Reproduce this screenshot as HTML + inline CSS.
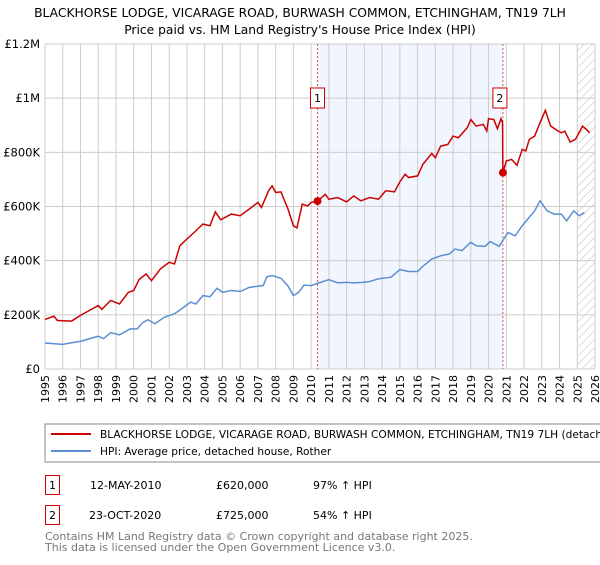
<!DOCTYPE html>
<html><head><meta charset="utf-8"><style>
body{margin:0;background:#fff;font-family:"Liberation Sans","DejaVu Sans",sans-serif}
svg text{font-family:"DejaVu Sans","Liberation Sans",sans-serif}
</style></head><body>
<svg id="c" width="600" height="560" xmlns="http://www.w3.org/2000/svg">
<defs><pattern id="h" width="6" height="6" patternUnits="userSpaceOnUse" patternTransform="rotate(45)"><line x1="0" y1="0" x2="0" y2="6" stroke="#bbb" stroke-width="1"/></pattern></defs>
<text x="300" y="17" text-anchor="middle" font-size="12.3">BLACKHORSE LODGE, VICARAGE ROAD, BURWASH COMMON, ETCHINGHAM, TN19 7LH</text>
<text x="300" y="34" text-anchor="middle" font-size="12.3">Price paid vs. HM Land Registry's House Price Index (HPI)</text>
<g id="grid"></g>
<g id="marks"></g>
<g id="axes"></g>
<rect x="45" y="424" width="560" height="38" fill="none" stroke="#888"/>
<line x1="51" y1="434" x2="91" y2="434" stroke="#cc0000" stroke-width="2"/>
<text x="100" y="438" font-size="10.6">BLACKHORSE LODGE, VICARAGE ROAD, BURWASH COMMON, ETCHINGHAM, TN19 7LH (detached house)</text>
<line x1="51" y1="451" x2="91" y2="451" stroke="#5b8fd4" stroke-width="2"/>
<text x="100" y="455" font-size="10.6">HPI: Average price, detached house, Rother</text>
<g>
<rect x="45.5" y="475.5" width="14" height="19" fill="none" stroke="#cc0000"/>
<text x="52.5" y="489" text-anchor="middle" font-size="11">1</text>
<text x="90" y="489" font-size="11">12-MAY-2010</text>
<text x="216" y="489" font-size="11">£620,000</text>
<text x="313" y="489" font-size="11">97% ↑ HPI</text></g>
<g>
<rect x="45.5" y="505.5" width="14" height="19" fill="none" stroke="#cc0000"/>
<text x="52.5" y="519" text-anchor="middle" font-size="11">2</text>
<text x="89" y="519" font-size="11">23-OCT-2020</text>
<text x="216" y="519" font-size="11">£725,000</text>
<text x="313" y="519" font-size="11">54% ↑ HPI</text></g>
<text x="45" y="540" font-size="11" fill="#777">Contains HM Land Registry data © Crown copyright and database right 2025.</text>
<text x="45" y="551" font-size="11" fill="#777">This data is licensed under the Open Government Licence v3.0.</text>
</svg>
<script>
const yTicks=[0,200000,400000,600000,800000,1000000,1200000];
const yTickLabels=["£0","£200K","£400K","£600K","£800K","£1M","£1.2M"];
const xYears=[1995,1996,1997,1998,1999,2000,2001,2002,2003,2004,2005,2006,2007,2008,2009,2010,2011,2012,2013,2014,2015,2016,2017,2018,2019,2020,2021,2022,2023,2024,2025,2026];
const saleDates=[2010.36,2020.81];
const salePrices=[620000,725000];
const saleLabels=["1","2"];
const propT=[1995.0,1995.5,1995.7,1996.5,1997.0,1997.5,1998.0,1998.2,1998.7,1999.2,1999.7,2000.0,2000.3,2000.7,2001.0,2001.5,2002.0,2002.3,2002.6,2003.0,2003.4,2003.9,2004.3,2004.6,2004.9,2005.5,2006.0,2006.5,2007.0,2007.2,2007.6,2007.8,2008.0,2008.3,2008.7,2009.0,2009.2,2009.5,2009.8,2010.0,2010.36,2010.8,2011.0,2011.5,2012.0,2012.4,2012.8,2013.3,2013.8,2014.2,2014.7,2015.0,2015.3,2015.5,2016.0,2016.3,2016.8,2017.0,2017.3,2017.7,2018.0,2018.3,2018.8,2019.0,2019.3,2019.7,2019.9,2020.0,2020.3,2020.5,2020.7,2020.79,2020.81,2021.0,2021.3,2021.6,2021.9,2022.1,2022.3,2022.6,2022.9,2023.2,2023.5,2023.8,2024.1,2024.3,2024.6,2024.9,2025.3,2025.6,2025.7];
const propV=[183,195,179,177,198,216,234,220,253,240,283,290,330,351,326,369,394,388,455,480,504,535,529,580,551,572,566,590,615,596,658,676,652,654,590,529,521,609,602,615,620,645,627,633,617,639,621,633,627,658,654,691,719,707,713,756,796,780,823,829,860,854,891,921,897,903,879,924,921,887,924,909,725,768,774,752,811,805,848,860,909,955,897,884,872,878,838,848,897,879,872];
const hpiT=[1995.0,1996.0,1996.5,1997.0,1998.0,1998.3,1998.7,1999.2,1999.8,2000.2,2000.5,2000.8,2001.2,2001.7,2002.3,2002.7,2003.2,2003.5,2003.9,2004.3,2004.7,2005.0,2005.5,2006.0,2006.5,2007.0,2007.3,2007.5,2007.8,2008.3,2008.7,2009.0,2009.3,2009.6,2010.0,2010.4,2011.0,2011.5,2012.0,2012.4,2012.9,2013.3,2013.8,2014.5,2015.0,2015.5,2016.0,2016.3,2016.8,2017.3,2017.8,2018.1,2018.5,2019.0,2019.3,2019.8,2020.1,2020.6,2020.8,2021.1,2021.5,2021.9,2022.2,2022.6,2022.9,2023.3,2023.7,2024.1,2024.4,2024.8,2025.1,2025.4];
const hpiV=[96,91,97,102,121,112,134,126,148,148,171,182,167,190,204,222,247,240,271,267,298,283,290,286,301,306,308,340,345,335,306,271,283,310,308,317,330,318,320,318,320,323,333,339,367,360,360,379,406,418,425,443,437,468,455,453,470,453,474,504,492,529,553,584,621,584,572,572,547,584,566,578];
const L=45,R=595,T=44,B=369,X0=1995,X1=2026,YMAX=1200000;
const xs=t=>L+(t-X0)/(X1-X0)*(R-L);
const ys=v=>B-v/YMAX*(B-T);
const NS="http://www.w3.org/2000/svg";
function mk(tag,attrs,parent){const e=document.createElementNS(NS,tag);for(const k in attrs)e.setAttribute(k,attrs[k]);parent.appendChild(e);return e;}
const grid=document.getElementById('grid'),marks=document.getElementById('marks'),axes=document.getElementById('axes');
const sh=mk('rect',{x:xs(saleDates[0]),y:T,width:xs(saleDates[1])-xs(saleDates[0]),height:B-T,fill:'#eef3fc',opacity:0.8},grid);


const hx=xs(2025.05);
const ha=mk('rect',{x:hx,y:T,width:R-hx,height:B-T,fill:'url(#h)'},grid);


xYears.forEach(y=>{const l=mk('line',{x1:xs(y),x2:xs(y),y1:T,y2:B,stroke:'#ccc'},grid);


const t=mk('text',{x:0,y:0,'font-size':11,'text-anchor':'end',transform:`translate(${xs(y)+4},${B+6}) rotate(-90)`},axes);
t.textContent=y;

});
yTicks.forEach((v,i)=>{const l=mk('line',{x1:L,x2:R,y1:ys(v),y2:ys(v),stroke:'#ccc'},grid);


const t=mk('text',{x:L-5,y:ys(v)+4,'font-size':11.5,'text-anchor':'end'},axes);
t.textContent=yTickLabels[i];

});
saleDates.forEach((d,i)=>{const l=mk('line',{x1:xs(d),x2:xs(d),y1:T,y2:B,stroke:'#e05050','stroke-dasharray':'2,2'},grid);


const bx=xs(d)-7-(i==1?3:0);
const r=mk('rect',{x:bx,y:88,width:14,height:20,fill:'#fff',stroke:'#cc0000'},marks);


const t=mk('text',{x:bx+7,y:102,'font-size':11,'text-anchor':'middle'},marks);
t.textContent=saleLabels[i];

});
const hp=mk('polyline',{points:hpiT.map((t,i)=>xs(t)+','+ys(hpiV[i]*1000)).join(' '),fill:'none',stroke:'#5b8fd4','stroke-width':1.5},marks);


const pp=mk('polyline',{points:propT.map((t,i)=>xs(t)+','+ys(propV[i]*1000)).join(' '),fill:'none',stroke:'#cc0000','stroke-width':1.5},marks);


saleDates.forEach((d,i)=>{const c=mk('circle',{cx:xs(d),cy:ys(salePrices[i]),r:4,fill:'#cc0000'},marks);

});
</script>
</body></html>
